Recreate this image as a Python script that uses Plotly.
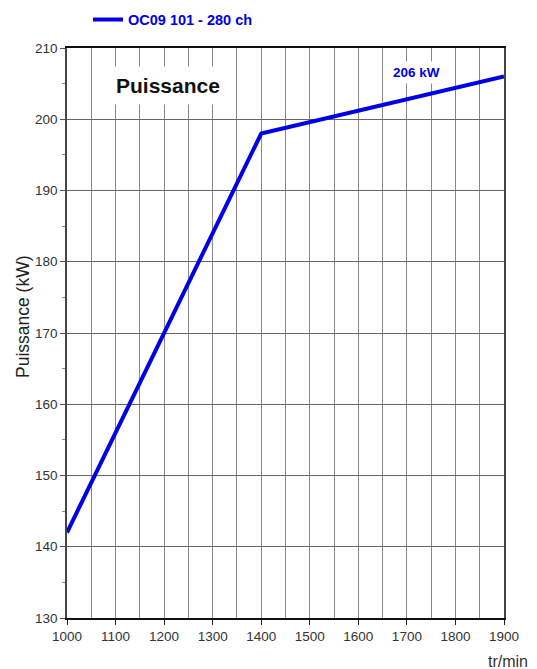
import plotly.graph_objects as go

rpm = [1000, 1400, 1900]
power_kw = [142, 198, 206]
series_name = "OC09 101 - 280 ch"
x_ticks = [1000, 1100, 1200, 1300, 1400, 1500, 1600, 1700, 1800, 1900]
y_ticks = [130, 140, 150, 160, 170, 180, 190, 200, 210]

BLUE = "#0000e6"
FONT = "Liberation Sans, Arial, sans-serif"

fig = go.Figure()
fig.add_trace(go.Scatter(x=rpm, y=power_kw, mode="lines", name=series_name,
                         line=dict(color=BLUE, width=4)))

fig.update_layout(
    width=529, height=661,
    margin=dict(l=59, r=33, t=40, b=51, autoexpand=False),
    paper_bgcolor="white", plot_bgcolor="white",
    font=dict(family=FONT, size=13, color="#333"),
    showlegend=True,
    legend=dict(orientation="h", x=0.048, y=1.05, xanchor="left", yanchor="middle",
                font=dict(family=FONT, size=14.5, color=BLUE, weight="bold"),
                bgcolor="rgba(0,0,0,0)"),
    xaxis=dict(range=[1000, 1900], tickvals=x_ticks, showgrid=True, gridcolor="#888",
               gridwidth=1, ticks="outside", ticklen=5, tickcolor="#222",
               showline=True, linecolor="#111", linewidth=1.5, mirror=True,
               minor=dict(dtick=50, showgrid=True, gridcolor="#888", gridwidth=1),
               zeroline=False, automargin=False, tickfont=dict(size=13.5, color="#333")),
    yaxis=dict(range=[130, 210], tickvals=y_ticks, showgrid=True, gridcolor="#666",
               gridwidth=1, ticks="outside", ticklen=5, tickcolor="#555",
               showline=True, linecolor="#444", linewidth=1.5, mirror=True,
               minor=dict(dtick=5, ticks="outside", ticklen=3, tickcolor="#888", showgrid=False),
               zeroline=False, automargin=False, tickfont=dict(size=13.5, color="#333")),
    annotations=[
        dict(x=-0.1007, y=0.5298, xref="paper", yref="paper", text="Puissance (kW)",
             showarrow=False, textangle=-90, xanchor="center", yanchor="middle",
             font=dict(family=FONT, size=17.5, color="#222")),
        dict(x=1208, y=204.8, xref="x", yref="y", text="<b>Puissance</b>", showarrow=False,
             font=dict(family=FONT, size=21, color="#111"), bgcolor="white",
             borderpad=7),
        dict(x=1719, y=206.5, xref="x", yref="y", text="<b>206 kW</b>", showarrow=False,
             font=dict(family=FONT, size=13.5, color=BLUE), bgcolor="white", borderpad=3),
        dict(x=1.009, y=-0.077, xref="paper", yref="paper", text="tr/min", showarrow=False,
             xanchor="center", yanchor="middle", font=dict(family=FONT, size=16, color="#333")),
    ],
)

fig.write_html("out.html")
